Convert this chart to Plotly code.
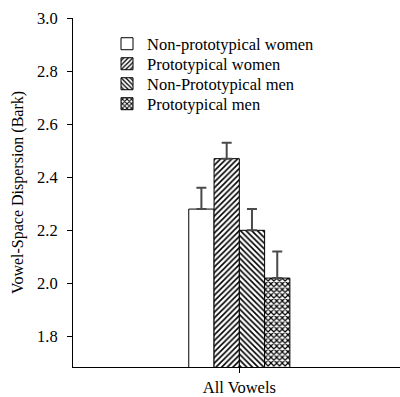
import plotly.graph_objects as go

categories = ["All Vowels"]
series_names = ["Non-prototypical women", "Prototypical women", "Non-Prototypical men", "Prototypical men"]
means = [2.28, 2.47, 2.20, 2.02]
errors = [0.08, 0.06, 0.08, 0.10]
patterns = ["", "/", "\\", "x"]
y_ticks = [1.8, 2.0, 2.2, 2.4, 2.6, 2.8, 3.0]
legend_ids = ["legend", "legend2", "legend3", "legend4"]

font = "Liberation Serif"
fs = 16.5

fig = go.Figure()
for name, m, e, p, lg in zip(series_names, means, errors, patterns, legend_ids):
    fig.add_trace(go.Bar(
        x=categories, y=[m], name=name, legend=lg,
        marker=dict(color="white", line=dict(color="black", width=1),
                    pattern=dict(shape=p, fgcolor="black", bgcolor="white", fgopacity=1,
                                 size=4, solidity=0.4 if p != "x" else 0.5)),
        error_y=dict(type="data", array=[e], symmetric=False, arrayminus=[0],
                     color="#4a4a4a", thickness=2, width=5),
    ))

# one legend box per row so the row spacing matches the reference
row_y = [0.9255, 0.8682, 0.8109, 0.7536]
legend_layout = {}
for lg, yy in zip(legend_ids, row_y):
    legend_layout[lg] = dict(x=0.104, y=yy, xanchor="left", yanchor="middle",
                             bgcolor="rgba(0,0,0,0)", borderwidth=0,
                             font=dict(family=font, size=fs, color="black"))

fig.update_layout(
    width=400, height=397,
    margin=dict(l=73, r=0, t=18, b=30),
    paper_bgcolor="white", plot_bgcolor="white",
    barmode="group", bargap=0.696, bargroupgap=0,
    font=dict(family=font, size=fs, color="black"),
    showlegend=True,
    xaxis=dict(showline=True, linecolor="black", linewidth=1, ticks="outside",
               ticklen=5, tickcolor="black", range=[-0.5, 0.483], automargin=False,
               tickfont=dict(family=font, size=fs)),
    yaxis=dict(title=dict(text="Vowel-Space Dispersion (Bark)", font=dict(family=font, size=16), standoff=9),
               range=[1.685, 3.0], tickvals=y_ticks, ticktext=[f"{v:.1f}" for v in y_ticks],
               showline=True, linecolor="black", linewidth=1, ticks="outside", automargin=False,
               ticklen=5, tickcolor="black", showgrid=False, zeroline=False, ticklabelstandoff=6,
               tickfont=dict(family=font, size=fs)),
    **legend_layout,
)
fig.write_html("out.html", config={"displayModeBar": False},
               post_script="document.body.style.margin='0';document.body.style.padding='0';")
